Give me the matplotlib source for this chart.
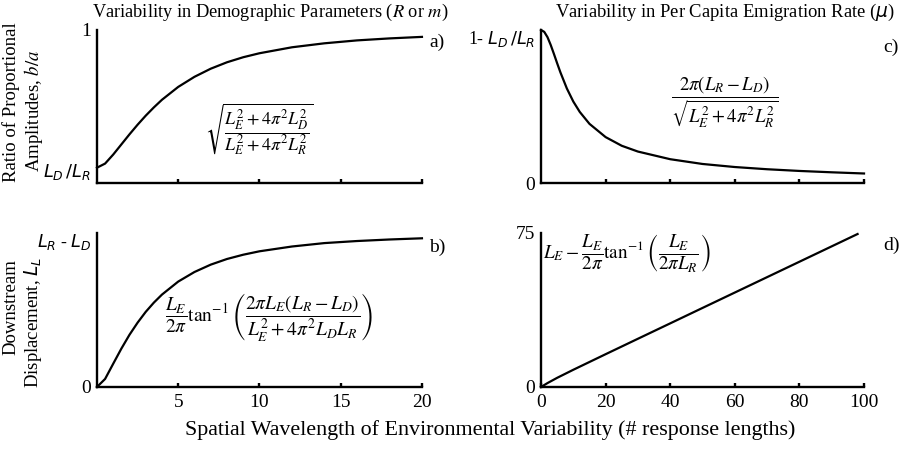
import matplotlib
matplotlib.use("Agg")
import matplotlib.pyplot as plt

plt.rcParams['font.family'] = ['Liberation Serif', 'DejaVu Serif']
plt.rcParams['mathtext.fontset'] = 'stix'

# demographic variability (LD/LR = 0.1), wavelengths 0-20
x_demo = [0, 0.5, 1, 1.5, 2, 2.5, 3, 3.5, 4, 5, 6, 7, 8, 9, 10, 12, 14, 16, 18, 20]
amp_demo = [0.100, 0.127, 0.186, 0.252, 0.318, 0.381, 0.440, 0.494, 0.544, 0.628,
            0.694, 0.747, 0.789, 0.822, 0.848, 0.887, 0.913, 0.932, 0.945, 0.955]
disp_demo = [0.000, 0.047, 0.136, 0.224, 0.305, 0.376, 0.439, 0.493, 0.540, 0.616,
             0.672, 0.715, 0.748, 0.773, 0.793, 0.821, 0.841, 0.853, 0.862, 0.869]

# emigration variability, wavelengths 0-100
x_emig = [0, 1, 2, 3, 4, 5, 6, 8, 10, 12, 15, 20, 25, 30, 40, 50, 60, 70, 80, 90, 100]
amp_emig = [0.900, 0.889, 0.858, 0.812, 0.759, 0.704, 0.651, 0.556, 0.479, 0.418, 0.348,
            0.270, 0.219, 0.185, 0.140, 0.112, 0.094, 0.081, 0.071, 0.063, 0.056]
x_disp_emig = [0, 2, 5, 10, 20, 30, 40, 50, 60, 70, 80, 90, 98]
disp_emig = [0.0, 1.90, 4.47, 8.39, 15.97, 23.49, 30.99, 38.50, 46.00, 53.50, 61.00, 68.50, 74.50]

LW = 1.6


def style_axes(ax, xmax, xticks, ylim, yticks, yticklabels, show_xlabels):
    for side in ('top', 'right'):
        ax.spines[side].set_visible(False)
    for side in ('left', 'bottom'):
        ax.spines[side].set_linewidth(1.7)
    ax.set_xlim(0, xmax)
    ax.set_ylim(*ylim)
    ax.set_xticks(xticks)
    ax.tick_params(axis='x', direction='in', length=3, width=1.7, labelsize=14, pad=5)
    if not show_xlabels:
        ax.set_xticklabels([])
    ax.set_yticks(yticks)
    ax.set_yticklabels(yticklabels)
    ax.tick_params(axis='y', length=0, labelsize=14, pad=4)
    for lab in ax.get_yticklabels():
        lab.set_math_fontfamily('dejavusans')
        # symbolic labels are set a bit smaller than the plain numbers
        if '$' in lab.get_text():
            lab.set_fontsize(12.8)
    ax.patch.set_alpha(0)


fig = plt.figure(figsize=(9.02, 4.49), dpi=100)
ax_a = fig.add_axes([0.1075, 0.5924, 0.3603, 0.3408])
ax_b = fig.add_axes([0.1075, 0.1381, 0.3603, 0.3430])
ax_c = fig.add_axes([0.5998, 0.5924, 0.3581, 0.3408])
ax_d = fig.add_axes([0.5998, 0.1381, 0.3581, 0.3430])

ax_a.plot(x_demo, amp_demo, color='black', lw=LW, clip_on=False)
style_axes(ax_a, 20, [5, 10, 15, 20], (0, 1), [0.09, 1],
           [r'$L_D\,/L_R$', '1'], False)

ax_b.plot(x_demo, disp_demo, color='black', lw=LW, clip_on=False)
style_axes(ax_b, 20, [5, 10, 15, 20], (0, 0.9), [0, 0.86],
           ['0', r'$L_R$ - $L_D$'], True)

ax_c.plot(x_emig, amp_emig, color='black', lw=LW, clip_on=False)
style_axes(ax_c, 100, [20, 40, 60, 80, 100], (0, 0.9), [0, 0.86],
           ['0', r'1- $L_D\,/L_R$'], False)

ax_d.plot(x_disp_emig, disp_emig, color='black', lw=LW, clip_on=False)
style_axes(ax_d, 100, [0, 20, 40, 60, 80, 100], (0, 75), [0, 75],
           ['0', '75'], True)

# formulas
ax_a.text(0.50, 0.35, r'$\sqrt{\dfrac{L_E^2+4\pi^2L_D^2}{L_E^2+4\pi^2L_R^2}}$',
          transform=ax_a.transAxes, ha='center', va='center', fontsize=13)
ax_b.text(0.53, 0.45,
          r'$\dfrac{L_E}{2\pi}\tan^{-1}\left(\dfrac{2\pi L_E\left(L_R-L_D\right)}{L_E^2+4\pi^2L_DL_R}\right)$',
          transform=ax_b.transAxes, ha='center', va='center', fontsize=14)
ax_c.text(0.57, 0.53, r'$\dfrac{2\pi\left(L_R-L_D\right)}{\sqrt{L_E^2+4\pi^2L_R^2}}$',
          transform=ax_c.transAxes, ha='center', va='center', fontsize=13.5)
ax_d.text(0.005, 0.87, r'$L_E-\dfrac{L_E}{2\pi}\tan^{-1}\left(\dfrac{L_E}{2\pi L_R}\right)$',
          transform=ax_d.transAxes, ha='left', va='center', fontsize=13.8)

# panel letters
fig.text(0.476, 0.905, 'a)', fontsize=14, va='center')
fig.text(0.476, 0.449, 'b)', fontsize=14, va='center')
fig.text(0.979, 0.895, 'c)', fontsize=14, va='center')
fig.text(0.979, 0.454, 'd)', fontsize=14, va='center')

# column titles
fig.text(0.300, 0.972, r'Variability in Demographic Parameters ($R$ or $m$)',
         ha='center', va='center', fontsize=13.2)
t = fig.text(0.804, 0.972, r'Variability in Per Capita Emigration Rate ($\mu$)',
             ha='center', va='center', fontsize=13.4)
t.set_math_fontfamily('dejavusans')

# row labels
fig.text(0.012, 0.773, 'Ratio of Proportional', rotation=90, ha='center', va='center', fontsize=13.5)
fig.text(0.037, 0.753, r'Amplitudes, $b/a$', rotation=90, ha='center', va='center', fontsize=13.5)
fig.text(0.012, 0.316, 'Downstream', rotation=90, ha='center', va='center', fontsize=13.5)
t = fig.text(0.037, 0.283, r'Displacement, $L_L$', rotation=90, ha='center', va='center', fontsize=13.5)
t.set_math_fontfamily('dejavusans')

fig.text(0.543, 0.042, 'Spatial Wavelength of Environmental Variability (# response lengths)',
         ha='center', va='center', fontsize=15.8)

fig.savefig('out.png', dpi=100)
